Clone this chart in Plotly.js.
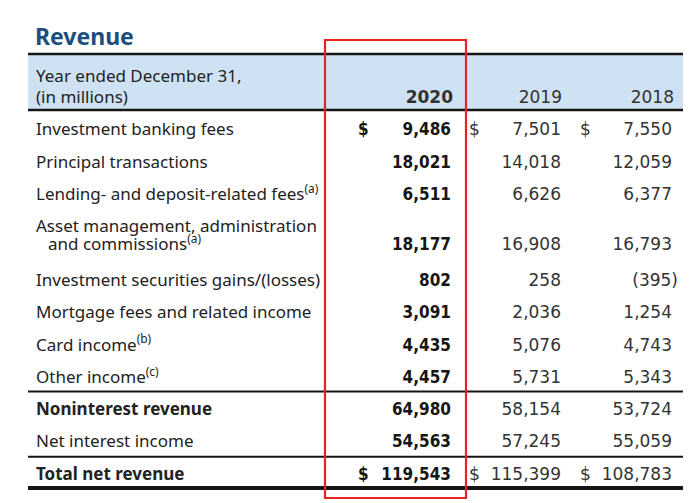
<!DOCTYPE html>
<html>
<head>
<meta charset="utf-8">
<script src="https://cdn.plot.ly/plotly-3.0.1.min.js"></script>
<style>html,body{margin:0;padding:0;background:#fff;}#chart{width:700px;height:503px;}</style>
</head>
<body>
<div id="chart"></div>
<script>
// ---- data ----
const title = "Revenue";
const headerLines = ["Year ended December 31,", "(in millions)"];
const years = ["2020", "2019", "2018"];
const rowLabels = [
  "Investment banking fees",
  "Principal transactions",
  "Lending- and deposit-related fees",
  "Asset management, administration<br>and commissions",
  "Investment securities gains/(losses)",
  "Mortgage fees and related income",
  "Card income",
  "Other income",
  "Noninterest revenue",
  "Net interest income",
  "Total net revenue"
];
const footnotes = ["", "", "(a)", "(a)", "", "", "(b)", "(c)", "", "", ""];
const rowType = ["item","item","item","item","item","item","item","item","subtotal","item","total"];
const v2020 = [9486, 18021, 6511, 18177, 802, 3091, 4435, 4457, 64980, 54563, 119543];
const v2019 = [7501, 14018, 6626, 16908, 258, 2036, 5076, 5731, 58154, 57245, 115399];
const v2018 = [7550, 12059, 6377, 16793, -395, 1254, 4743, 5343, 53724, 55059, 108783];
const series = [v2020, v2019, v2018];

// ---- layout geometry ----
const W = 700, H = 503;
const leftX = 36, indentX = 48, tableL = 28, tableR = 683;
const colRight = [451, 561, 672];
const colDollar = [358, 469, 580];
const yearRight = [453, 562, 674];
const pitch = 32.3, lineGap = 18, afterDouble = 3.5;
const textShift = 2; // Plotly 'middle' sits a little high

// compute row positions and label line positions
const rowY = [], labelLines = [];
let y = 129, prevDouble = false;
rowLabels.forEach((lab, i) => {
  const parts = lab.split("<br>");
  if (i > 0) y += pitch + (prevDouble ? afterDouble : 0);
  if (parts.length > 1) {
    labelLines.push({t: parts[0], x: leftX, y: y});
    labelLines.push({t: parts[1] + (footnotes[i] ? "<sup>" + footnotes[i] + "</sup>" : ""), x: indentX, y: y + lineGap});
    y += lineGap;
    prevDouble = true;
  } else {
    let t = lab + (footnotes[i] ? "<sup>" + footnotes[i] + "</sup>" : "");
    if (rowType[i] !== "item") t = "<b>" + t + "</b>";
    labelLines.push({t: t, x: leftX, y: y});
    prevDouble = false;
  }
  rowY.push(y);
});

function fmt(v) {
  const s = Math.abs(v).toLocaleString("en-US");
  return v < 0 ? "(" + s + ")" : s;
}

const labelFont = {family: "Noto Sans, Open Sans, sans-serif", size: 17, color: "#222222"};
const numFont = {family: "DejaVu Sans", size: 17, color: "#333333"};
const boldNumFont = {family: "DejaVu Sans Condensed, DejaVu Sans", size: 17, color: "#161616"};
const traces = [];

// row labels
traces.push({
  type: "scatter", mode: "text",
  x: labelLines.map(l => l.x), y: labelLines.map(l => l.y + textShift),
  text: labelLines.map(l => l.t),
  textposition: "middle right", textfont: labelFont, hoverinfo: "skip", showlegend: false
});
// header text
traces.push({
  type: "scatter", mode: "text",
  x: [leftX, leftX], y: [76 + textShift, 97 + textShift], text: headerLines,
  textposition: "middle right", textfont: labelFont, hoverinfo: "skip", showlegend: false
});
// title
traces.push({
  type: "scatter", mode: "text",
  x: [leftX - 1], y: [37 + textShift], text: ["<b>" + title + "</b>"],
  textposition: "middle right",
  textfont: {family: "Noto Sans, Open Sans, sans-serif", size: 23, color: "#1d4e7e"},
  hoverinfo: "skip", showlegend: false
});
// year headers
traces.push({
  type: "scatter", mode: "text",
  x: yearRight, y: [97 + textShift, 97 + textShift, 97 + textShift],
  text: years.map((t, j) => j === 0 ? "<b>" + t + "</b>" : t),
  textposition: "middle left",
  textfont: numFont,
  hoverinfo: "skip", showlegend: false
});
// values per column
series.forEach((vals, j) => {
  const bold = j === 0;
  traces.push({
    type: "scatter", mode: "text",
    x: vals.map(v => v < 0 ? colRight[j] + 6 : colRight[j]),
    y: rowY.map(r => r + textShift),
    text: vals.map(v => bold ? "<b>" + fmt(v) + "</b>" : fmt(v)),
    textposition: "middle left",
    textfont: bold ? boldNumFont : numFont,
    hoverinfo: "skip", showlegend: false
  });
  // dollar signs on first and total rows
  const dIdx = rowY.map((_, i) => i).filter(i => i === 0 || rowType[i] === "total");
  traces.push({
    type: "scatter", mode: "text",
    x: dIdx.map(() => colDollar[j]), y: dIdx.map(i => rowY[i] + textShift),
    text: dIdx.map(() => bold ? "<b>$</b>" : "$"),
    textposition: "middle right",
    textfont: bold ? boldNumFont : numFont,
    hoverinfo: "skip", showlegend: false
  });
});

// ---- rules and boxes ----
const ruleColor = "#151515";
const idxOther = rowLabels.indexOf("Other income");
const idxNet = rowLabels.indexOf("Net interest income");
const idxTotal = rowType.indexOf("total");
const shapes = [
  {type: "rect", x0: tableL, x1: tableR, y0: 54, y1: 110, fillcolor: "#cfe2f4", line: {width: 0}, layer: "below"},
  {type: "line", x0: tableL, x1: tableR, y0: 54, y1: 54, line: {color: ruleColor, width: 2.5}},
  {type: "line", x0: tableL, x1: tableR, y0: 110, y1: 110, line: {color: ruleColor, width: 2.5}},
  {type: "line", x0: tableL, x1: tableR, y0: rowY[idxOther] + 15, y1: rowY[idxOther] + 15, line: {color: ruleColor, width: 2}},
  {type: "line", x0: tableL, x1: tableR, y0: rowY[idxNet] + 15.5, y1: rowY[idxNet] + 15.5, line: {color: ruleColor, width: 2}},
  {type: "line", x0: tableL, x1: tableR, y0: rowY[idxTotal] + 14.5, y1: rowY[idxTotal] + 14.5, line: {color: ruleColor, width: 4}},
  {type: "rect", x0: 325, x1: 466, y0: 40, y1: 498, line: {color: "#e8231e", width: 2.2}, fillcolor: "rgba(0,0,0,0)", layer: "above"}
];

const layout = {
  width: W, height: H,
  margin: {l: 0, r: 0, t: 0, b: 0, pad: 0},
  paper_bgcolor: "#ffffff", plot_bgcolor: "#ffffff",
  xaxis: {range: [0, W], visible: false, fixedrange: true},
  yaxis: {range: [H, 0], visible: false, fixedrange: true},
  shapes: shapes,
  showlegend: false
};
Plotly.newPlot("chart", traces, layout, {staticPlot: true, displayModeBar: false});
</script>
</body>
</html>
